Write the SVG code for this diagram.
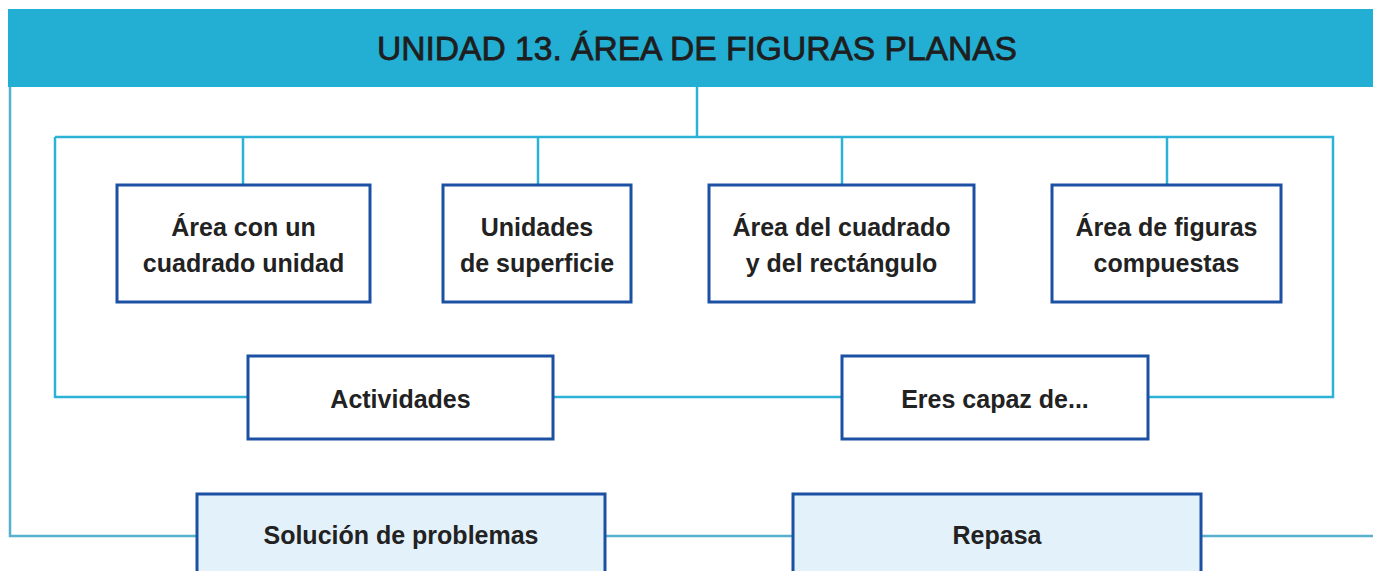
<svg xmlns="http://www.w3.org/2000/svg" width="1373" height="571" viewBox="0 0 1373 571">
<style>
.ln{fill:none;stroke:#2cb2d7;stroke-width:2.5}
.lo{fill:none;stroke:#55b1cc;stroke-width:2.5}
.bx{fill:#ffffff;stroke:#1b50a2;stroke-width:3}
.bb{fill:#e3f1fa;stroke:#1b50a2;stroke-width:3}
.t{font-family:"Liberation Sans",Arial,sans-serif;font-weight:bold;font-size:25px;fill:#222222;text-anchor:middle}
.h{font-family:"Liberation Sans",Arial,sans-serif;font-size:34px;fill:#1e1e1e;stroke:#1e1e1e;stroke-width:0.8;text-anchor:middle}
</style>
<rect width="1373" height="571" fill="#ffffff"/>
<g id="connectors">
<path class="lo" d="M10,87 V536 H197 M605,536 H793 M1201,536 H1373"/>
<path class="ln" d="M697,87 V137 M55,137 H1333 V397 H1148 M842,397 H553 M248,397 H55 V137 M243,137 V185 M538,137 V185 M842,137 V185 M1167,137 V185"/>
</g>
<g id="header">
<rect x="8" y="9" width="1365" height="78" fill="#23aed4"/>
<text class="h" x="697" y="59.5" textLength="640" lengthAdjust="spacingAndGlyphs">UNIDAD 13. ÁREA DE FIGURAS PLANAS</text>
</g>
<g id="n1">
<rect class="bx" x="117" y="185" width="253" height="117"/>
<text class="t" x="243.5" y="236">Área con un</text>
<text class="t" x="243.5" y="272">cuadrado unidad</text>
</g>
<g id="n2">
<rect class="bx" x="443" y="185" width="188" height="117"/>
<text class="t" x="537" y="236">Unidades</text>
<text class="t" x="537" y="272">de superficie</text>
</g>
<g id="n3">
<rect class="bx" x="709" y="185" width="265" height="117"/>
<text class="t" x="841.5" y="236">Área del cuadrado</text>
<text class="t" x="841.5" y="272">y del rectángulo</text>
</g>
<g id="n4">
<rect class="bx" x="1052" y="185" width="229" height="117"/>
<text class="t" x="1166.5" y="236">Área de figuras</text>
<text class="t" x="1166.5" y="272">compuestas</text>
</g>
<g id="n5">
<rect class="bx" x="248" y="356" width="305" height="83"/>
<text class="t" x="400.5" y="408">Actividades</text>
</g>
<g id="n6">
<rect class="bx" x="842" y="356" width="306" height="83"/>
<text class="t" x="995" y="408">Eres capaz de...</text>
</g>
<g id="n7">
<rect class="bb" x="197" y="494" width="408" height="90"/>
<text class="t" x="401" y="544">Solución de problemas</text>
</g>
<g id="n8">
<rect class="bb" x="793" y="494" width="408" height="90"/>
<text class="t" x="997" y="544">Repasa</text>
</g>
</svg>
